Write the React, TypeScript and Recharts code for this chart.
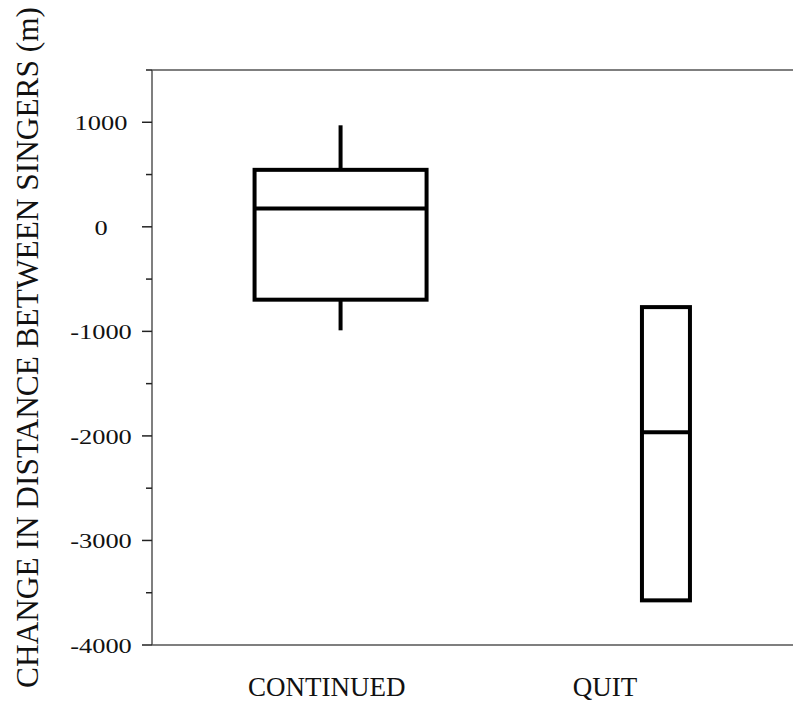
import React from "react";
import { ComposedChart, Bar, XAxis, YAxis, ReferenceLine } from "recharts";

const CATEGORIES = ["CONTINUED", "QUIT"];
const MINS = [-990, -3573];
const Q1S = [-697, -3573];
const MEDIANS = [176, -1966];
const Q3S = [545, -768];
const MAXS = [971, -768];
const Y_TICKS = [-4000, -3500, -3000, -2500, -2000, -1500, -1000, -500, 0, 500, 1000, 1500];

// box widths in px and label nudges, styling only
const BOX_WIDTHS = [172, 48];
const LABEL_DX = [-14, -61];

const AXIS_X = 152;
const FONT = "'Times New Roman', 'Liberation Serif', Tinos, serif";

const rows = CATEGORIES.map((name, i) => ({
    name,
    pos: i,
    min: MINS[i],
    q1: Q1S[i],
    median: MEDIANS[i],
    q3: Q3S[i],
    max: MAXS[i],
}));

function BoxShape(props: any) {
    const { x, y, width, height, payload, index } = props;
    const top = Math.min(y, y + height);
    const h = Math.abs(height);
    const k = h / (payload.q3 - payload.q1);
    const cx = x + width / 2;
    const w = BOX_WIDTHS[index];
    const medY = top + (payload.q3 - payload.median) * k;
    const hiY = top - (payload.max - payload.q3) * k;
    const loY = top + h + (payload.q1 - payload.min) * k;
    return (
        <g stroke="#000" strokeWidth={4} fill="none">
            {hiY < top && <line x1={cx} x2={cx} y1={hiY} y2={top} />}
            {loY > top + h && <line x1={cx} x2={cx} y1={top + h} y2={loY} />}
            <rect x={cx - w / 2} y={top} width={w} height={h} fill="#fff" />
            <line x1={cx - w / 2} x2={cx + w / 2} y1={medY} y2={medY} />
        </g>
    );
}

function YTick(props: any) {
    const { y, payload } = props;
    const v = payload.value;
    const major = v % 1000 === 0;
    return (
        <g>
            <line x1={AXIS_X - (major ? 10 : 6)} x2={AXIS_X} y1={y} y2={y} stroke="#222" strokeWidth={1.5} />
            {major && (
                <text
                    transform={`translate(101, ${y}) scale(1.2, 1)`}
                    textAnchor="middle"
                    dominantBaseline="central"
                    style={{ fontFamily: FONT, fontSize: 22 }}
                    fill="#111"
                >
                    {v}
                </text>
            )}
        </g>
    );
}

function XTick(props: any) {
    const { x, payload, index } = props;
    return (
        <text x={x + LABEL_DX[index]} y={696} textAnchor="middle" style={{ fontFamily: FONT, fontSize: 27 }} fill="#111">
            {CATEGORIES[payload.value]}
        </text>
    );
}

function YTitle() {
    return (
        <text
            transform="translate(38, 347.5) rotate(-90)"
            textAnchor="middle"
            style={{ fontFamily: FONT, fontSize: 31 }}
            fill="#111"
            textLength={681}
            lengthAdjust="spacingAndGlyphs"
        >
            CHANGE IN DISTANCE BETWEEN SINGERS (m)
        </text>
    );
}

export default function App() {
    return (
        <div style={{ position: "absolute", left: 0, top: 0, background: "#fff" }}>
            <ComposedChart width={793} height={702} data={rows} margin={{ top: 70, right: 0, bottom: 0, left: 0 }}>
                <XAxis
                    type="number"
                    dataKey="pos"
                    domain={[-0.58, 1.39]}
                    ticks={[0, 1]}
                    interval={0}
                    height={57}
                    axisLine={{ stroke: "#555", strokeWidth: 1.5 }}
                    tickLine={false}
                    tick={<XTick />}
                />
                <YAxis
                    type="number"
                    domain={[-4000, 1500]}
                    ticks={Y_TICKS}
                    interval={0}
                    width={152}
                    axisLine={{ stroke: "#555", strokeWidth: 1.5 }}
                    tickLine={false}
                    tick={<YTick />}
                    label={{ content: () => <YTitle /> }}
                />
                <ReferenceLine y={1500} stroke="#555" strokeWidth={1.5} />
                <Bar
                    dataKey={(d: any) => [d.q1, d.q3]}
                    shape={<BoxShape />}
                    isAnimationActive={false}
                />
            </ComposedChart>
        </div>
    );
}
